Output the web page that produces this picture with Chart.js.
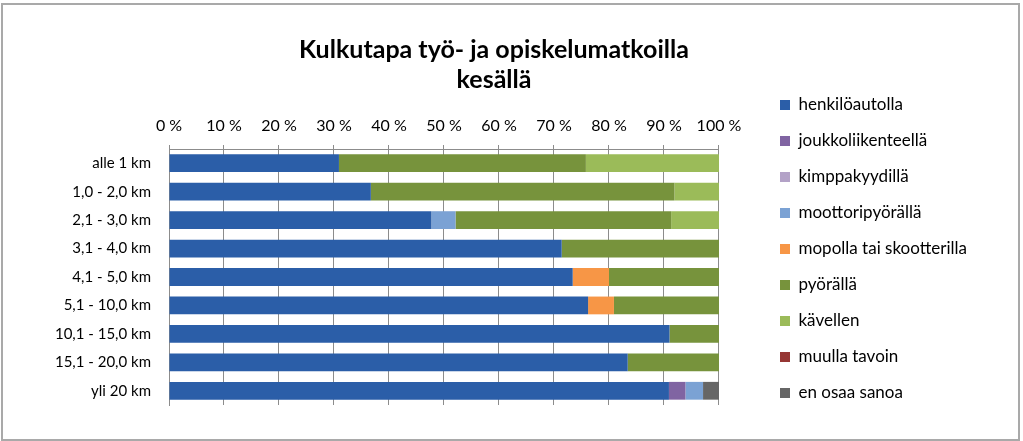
<!DOCTYPE html>
<html>
<head>
  <meta charset="utf-8" />
  <title>Kulkutapa työ- ja opiskelumatkoilla kesällä</title>
  <script src="https://cdn.jsdelivr.net/npm/chart.js@4.4.0/dist/chart.umd.min.js"></script>
  <style>
    html, body {
      margin: 0;
      padding: 0;
      background: #fff;
    }
    #wrap {
      position: relative;
      width: 1023px;
      height: 441px;
    }
    #frame {
      position: absolute;
      left: 1px;
      top: 3px;
      width: 1015px;
      height: 434px;
      border: 2px solid #a9a9a9;
      pointer-events: none;
    }
  </style>
</head>
<body>
  <div id="wrap">
    <canvas id="kulkuChart" width="1023" height="441"></canvas>
    <div id="frame"></div>
  </div>

  <script>
    // Matkan pituus (luokat)
    const distances = [
      'alle 1 km', '1,0 - 2,0 km', '2,1 - 3,0 km', '3,1 - 4,0 km', '4,1 - 5,0 km',
      '5,1 - 10,0 km', '10,1 - 15,0 km', '15,1 - 20,0 km', 'yli 20 km'
    ];

    // Osuudet (%) kulkutavoittain
    const henkiloautolla   = [30.9, 36.7, 47.7, 71.4, 73.4, 76.2, 91.0, 83.4, 90.9];
    const joukkoliikenne   = [0, 0, 0, 0, 0, 0, 0, 0, 3.0];
    const kimppakyydilla   = [0, 0, 0, 0, 0, 0, 0, 0, 0];
    const moottoripyoralla = [0, 0, 4.4, 0, 0, 0, 0, 0, 3.2];
    const mopolla          = [0, 0, 0, 0, 6.6, 4.7, 0, 0, 0];
    const pyoralla         = [44.9, 55.2, 39.2, 28.6, 20.0, 19.1, 9.0, 16.6, 0];
    const kavellen         = [24.2, 8.1, 8.7, 0, 0, 0, 0, 0, 0];
    const muullaTavoin     = [0, 0, 0, 0, 0, 0, 0, 0, 0];
    const enOsaa           = [0, 0, 0, 0, 0, 0, 0, 0, 2.9];

    const xTickLabels = ['0 %', '10 %', '20 %', '30 %', '40 %', '50 %', '60 %', '70 %', '80 %', '90 %', '100 %'];

    const seriesNames = [
      'henkilöautolla', 'joukkoliikenteellä', 'kimppakyydillä', 'moottoripyörällä',
      'mopolla tai skootterilla', 'pyörällä', 'kävellen', 'muulla tavoin', 'en osaa sanoa'
    ];
    const seriesData = [
      henkiloautolla, joukkoliikenne, kimppakyydilla, moottoripyoralla,
      mopolla, pyoralla, kavellen, muullaTavoin, enOsaa
    ];
    const seriesColors = [
      '#2b5ea8', '#8064a2', '#b3a2c7', '#7ba2d4',
      '#f79646', '#77933c', '#9bbb59', '#963634', '#666666'
    ];

    const FONT = 'Lato, "Open Sans", sans-serif';

    function drawChart() {
      const datasets = seriesNames.map((name, i) => ({
        label: name,
        data: seriesData[i],
        backgroundColor: seriesColors[i],
        borderWidth: 0,
        barPercentage: 0.625,
        categoryPercentage: 1.0
      }));

      const ctx = document.getElementById('kulkuChart').getContext('2d');
      new Chart(ctx, {
        type: 'bar',
        data: { labels: distances, datasets: datasets },
        options: {
          indexAxis: 'y',
          responsive: false,
          animation: false,
          layout: { padding: { left: 11, right: 46, top: 0, bottom: 0 } },
          scales: {
            x: {
              position: 'top',
              stacked: true,
              min: 0,
              max: 100,
              ticks: {
                stepSize: 10,
                color: '#000',
                padding: 10,
                font: { family: FONT, size: 16 },
                callback: (v, idx) => xTickLabels[idx]
              },
              grid: { color: '#8c8c8c', lineWidth: 1, tickLength: 4, drawTicks: true },
              border: { display: true, color: '#8c8c8c' },
              afterFit: s => { s.height = 40; }
            },
            y: {
              stacked: true,
              ticks: {
                color: '#000',
                padding: 18,
                font: { family: FONT, size: 15 }
              },
              grid: { display: false, drawTicks: false },
              border: { display: true, color: '#8c8c8c' },
              afterFit: s => { s.width = 158; }
            },
            // tyhjät apuakselit: väli kaavion ja selitteen välissä sekä alareunassa
            yGap: {
              position: 'right',
              display: true,
              ticks: { display: false },
              grid: { display: false, drawTicks: false },
              border: { display: false },
              afterFit: s => { s.width = 42; }
            },
            xGap: {
              type: 'linear',
              position: 'bottom',
              display: true,
              ticks: { display: false },
              grid: { display: false, drawTicks: false },
              border: { display: false },
              afterFit: s => { s.height = 36; }
            }
          },
          plugins: {
            title: {
              display: true,
              text: ['Kulkutapa työ- ja opiskelumatkoilla', 'kesällä'],
              color: '#000',
              font: { family: FONT, size: 25, weight: 'bold', lineHeight: 1.2 },
              padding: { top: 35, bottom: 14 }
            },
            legend: {
              display: true,
              position: 'right',
              align: 'start',
              maxWidth: 320,
              title: {
                display: true,
                text: ' ',
                font: { size: 10, lineHeight: 1.2 },
                padding: 32.75
              },
              labels: {
                boxWidth: 10,
                boxHeight: 10,
                padding: 19,
                color: '#000',
                font: { family: FONT, size: 17, lineHeight: 1.2 }
              }
            },
            tooltip: { enabled: false }
          }
        }
      });
    }

    // odotetaan fontit, jotta selitteen leveys mitataan oikein
    Promise.all([
      document.fonts.load('15px Lato'),
      document.fonts.load('bold 25px Lato')
    ]).then(drawChart, drawChart);
  </script>
</body>
</html>
